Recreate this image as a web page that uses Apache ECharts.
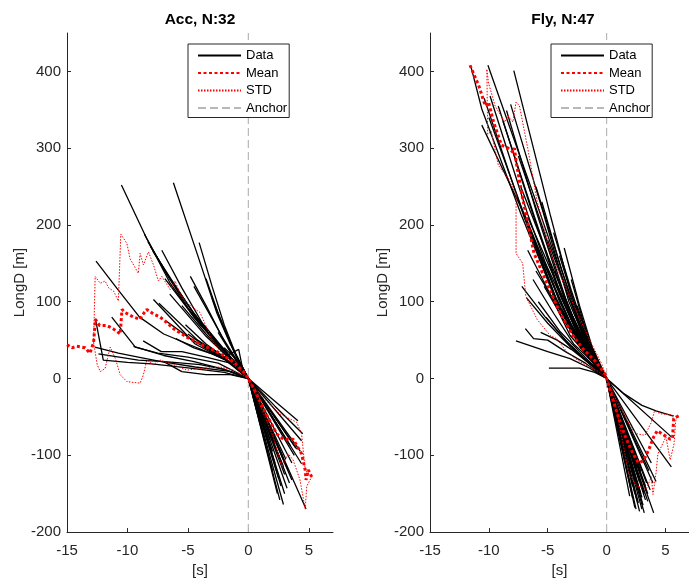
<!DOCTYPE html>
<html>
<head>
<meta charset="utf-8">
<script src="https://cdn.jsdelivr.net/npm/echarts@6/dist/echarts.min.js"></script>
<style>html,body{margin:0;padding:0;background:#fff}#c{width:689px;height:583px}</style>
</head>
<body>
<div id="c"></div>
<script>
// ---------- data ----------
const panelTitles = ['Acc, N:32', 'Fly, N:47'];
const xTicks = [-15, -10, -5, 0, 5];
const yTicks = [-200, -100, 0, 100, 200, 300, 400];
const legendNames = ['Data', 'Mean', 'STD', 'Anchor'];

const accTracks = [
  [[-10.5,252],[-8.4,182],[-6.5,125],[-4.5,80],[-2.5,45],[-1,20],[0,0],[2.9,-164]],
  [[-8.6,188],[-7,142],[-5,92],[-3,52],[-1.2,22],[0,0],[2.6,-158]],
  [[-8.3,178],[-6.5,130],[-4.5,85],[-2.5,46],[-1,18],[0,0],[3.2,-143]],
  [[-8.1,172],[-6.3,126],[-4.2,78],[-2.2,40],[-0.8,15],[0,0],[3.4,-136]],
  [[-7.9,166],[-6,120],[-4,72],[-2,36],[0,0],[2.4,-150]],
  [[-7.16,167],[-5.5,118],[-3.8,72],[-2,38],[0,0],[3.6,-132]],
  [[-6.2,255],[-4.5,175],[-2.6,85],[-1.5,45],[-0.5,15],[0,0],[4.77,-170]],
  [[-4.07,177],[-3,120],[-2,70],[-1,30],[0,0],[2.9,-115]],
  [[-4.8,133],[-3.5,95],[-2.2,55],[-1,25],[0,0],[3.0,-125]],
  [[-12.6,153],[-10.9,118],[-9,80],[-7,58],[-5,45],[-3,32],[-1,18],[0,0],[2,-27],[4.1,-55]],
  [[-12.7,41],[-10.75,33],[-9.1,28],[-7.2,22],[-4.4,15],[-1.4,9],[0,0],[2.2,-36],[4.5,-72]],
  [[-12.4,32],[-9.1,24],[-6.9,22],[-4,18],[-2,12],[0,0],[4.4,-81]],
  [[-11.3,80],[-9.35,41],[-7.5,33],[-5,28],[-2.5,20],[0,0],[4.3,-95]],
  [[-12.65,78],[-12.0,24],[-10,21],[-8,19],[-5,14],[-2,8],[0,0],[4.4,-111]],
  [[-7.85,103],[-4.4,45],[-2,25],[0,0],[2.7,-140]],
  [[-7.4,98],[-4.2,50],[-2,28],[0,0],[3.3,-120]],
  [[-6.9,130],[-4,70],[-2,38],[0,0],[3.8,-100]],
  [[-6.5,110],[-3.5,55],[-1.5,25],[0,0],[2.2,-110]],
  [[-8.7,49],[-7.2,35],[-5.5,35],[-3.5,28],[-1.5,20],[0,0],[2.0,-95]],
  [[-6.0,52],[-4.5,40],[-3,32],[-1.5,22],[0,0],[3.5,-88]],
  [[-5.5,95],[-3.5,58],[-1.8,30],[0,0],[3.9,-90]],
  [[-4.5,120],[-3,78],[-1.6,38],[0,0],[2.5,-130]],
  [[-3.5,130],[-2.5,85],[-1.3,40],[0,0],[1.8,-80]],
  [[-3,105],[-2,65],[-1,28],[0,0],[2.8,-100]],
  [[-9.5,42],[-7,30],[-4.5,22],[-2,12],[0,0],[3.1,-105]],
  [[-5.2,70],[-3.5,45],[-2,28],[-0.8,38],[-0.5,15],[0,0],[1.5,-60]],
  [[-2.5,60],[-1.5,35],[-0.7,15],[0,0],[2.2,-85]],
  [[-7,22],[-5.5,9],[-3.5,5],[-1.5,5],[0,0],[3.0,-150]],
  [[-5,58],[-3.2,38],[-1.6,22],[0,0],[2.0,-120]],
  [[-6.8,75],[-4.8,52],[-2.8,33],[-1.2,18],[0,0],[3.6,-110]],
  [[-3.8,42],[-2.4,30],[-1.2,18],[0,0],[4.0,-92]],
  [[-2,40],[-1,25],[0,0],[1.2,-40]]
];

const flyTracks = [
  [[-10.08,408],[-5.62,214],[-3.5,120],[-2,55],[-1,20],[0,0],[1.5,-20],[3,-35],[4.2,-42],[5.68,-49]],
  [[-7.88,401],[-4.8,214],[-3,110],[-1.5,45],[0,0],[5.5,-76]],
  [[-9.9,368],[-6.7,214],[-4,100],[-2,40],[0,0],[5.5,-115]],
  [[-8.5,349],[-5.9,214],[-3.5,100],[-1.8,40],[0,0],[4.2,-134]],
  [[-8.15,357],[-5.34,214],[-3.2,100],[-1.5,38],[0,0],[4.0,-175]],
  [[-11.5,405],[-10.6,351],[-7.27,214],[-4.5,110],[-2.5,48],[-1,18],[0,0],[1.96,-153]],
  [[-10.4,365],[-7.0,210],[-4.3,100],[-2.3,42],[0,0],[2.5,-170]],
  [[-10.0,340],[-6.8,205],[-4.2,100],[-2.2,40],[0,0],[2.8,-173]],
  [[-8.8,335],[-6.2,214],[-3.8,105],[-2,42],[0,0],[3.0,-170]],
  [[-7.5,290],[-5.5,200],[-3.5,105],[-1.8,40],[0,0],[3.3,-158]],
  [[-7.3,250],[-5,160],[-3,85],[-1.5,35],[0,0],[3.7,-145]],
  [[-6.7,210],[-4.7,140],[-2.8,75],[-1.3,30],[0,0],[3.4,-136]],
  [[-6.7,167],[-4.8,110],[-3.1,56],[-1.5,28],[0,0],[3.94,-136]],
  [[-6.25,129],[-4.5,85],[-2.8,45],[-1.2,22],[0,0],[3.1,-165]],
  [[-6.8,105],[-5,72],[-3,40],[-1.5,20],[0,0],[2.4,-168]],
  [[-6.9,65],[-6.2,52],[-5,50],[-3.5,35],[-1.8,20],[0,0],[2.6,-160]],
  [[-7.7,49],[-5,35],[-3.1,26],[-1.5,14],[0,0],[2.9,-150]],
  [[-4.9,13.5],[-2.3,13.5],[-1,8],[0,0],[3.2,-150]],
  [[-5.15,80],[-3.5,50],[-2,28],[0,0],[2.2,-140]],
  [[-5.6,60],[-4.2,50],[-3,38],[-1.5,20],[0,0],[2.7,-145]],
  [[-3.97,139],[-2.5,80],[-1.3,35],[0,0],[3.5,-160]],
  [[-3.0,129],[-2,75],[-1,30],[0,0],[2.3,-120]],
  [[-4.5,190],[-3,115],[-1.7,55],[0,0],[3.0,-130]],
  [[-5.5,230],[-3.8,140],[-2.2,68],[-1,25],[0,0],[2.0,-110]],
  [[-6,250],[-4.2,160],[-2.5,80],[-1.2,30],[0,0],[1.8,-95]],
  [[-10.6,330],[-7,214],[-4.3,105],[-2.2,40],[0,0],[2.6,-125]],
  [[-3.5,100],[-2.2,60],[-1,22],[0,0],[3.3,-140]],
  [[-2.5,95],[-1.5,50],[-0.7,20],[0,0],[1.5,-80]],
  [[-5.0,180],[-3.3,110],[-1.8,50],[0,0],[2.8,-135]],
  [[-4.0,160],[-2.7,95],[-1.4,40],[0,0],[3.6,-120]],
  [[-6.0,140],[-4.0,90],[-2.3,48],[-1,20],[0,0],[2.1,-130]],
  [[-5.3,120],[-3.6,75],[-2,38],[0,0],[1.2,-60]],
  [[-4.2,120],[-2.8,70],[-1.4,28],[0,0],[2.5,-140]],
  [[-3.3,75],[-2,45],[-1,20],[0,0],[3.1,-145]],
  [[-5.8,100],[-4,62],[-2.3,35],[-1,15],[0,0],[2.7,-162]],
  [[-2.8,60],[-1.5,30],[0,0],[2.4,-150]],
  [[-7.2,120],[-5.2,80],[-3.2,45],[-1.5,20],[0,0],[3.8,-110]],
  [[-2.2,50],[-1,22],[0,0],[1.7,-100]],
  [[-3.6,170],[-2.3,95],[-1.2,40],[0,0],[2.9,-120]],
  [[-4.4,140],[-3,85],[-1.6,36],[0,0],[2.2,-155]],
  [[-6.4,190],[-4.5,120],[-2.7,60],[-1.2,22],[0,0],[3.2,-175]],
  [[-5.2,150],[-3.5,95],[-2,48],[0,0],[1.0,-45]],
  [[-1.8,35],[-0.8,14],[0,0],[2.6,-115]],
  [[-4.6,110],[-3,65],[-1.6,28],[0,0],[3.5,-150]],
  [[-3.8,90],[-2.4,55],[-1.2,24],[0,0],[0.8,-35]],
  [[-7.0,215],[-5,140],[-3,70],[-1.5,28],[0,0],[2.0,-125]],
  [[-9.2,355],[-6.5,225],[-4,110],[-2,42],[0,0],[3.0,-155]]
];

const accMean = [[-15,44],[-14.6,40],[-14.2,42],[-13.8,41],[-13.5,40],[-13.1,33],[-12.8,47],[-12.65,77],[-12.3,69],[-11.7,69],[-11.2,65],[-10.6,58],[-10.45,90],[-10.2,86],[-9.5,80],[-8.95,77],[-8.8,82],[-8.4,90],[-7.85,84],[-7.3,80],[-6.75,73],[-6.2,65],[-5.1,54],[-4,45],[-2.6,35],[-1.24,22],[-0.4,9],[0,0],[0.7,-21],[1.5,-47],[2.35,-72],[2.9,-79],[3.7,-79],[4.4,-98],[4.7,-119],[4.77,-132],[4.96,-119],[5.24,-128]];
const accStdUp = [[-12.8,47],[-12.67,133],[-12.25,124],[-11.85,127],[-11.55,118],[-11.15,114],[-10.75,101],[-10.55,188],[-10.05,176],[-9.78,156],[-9.1,137],[-8.95,163],[-8.68,148],[-8.26,165],[-7.85,148],[-7.44,127],[-7.16,133],[-6.47,116],[-6.06,127],[-5.64,110],[-5.1,99],[-4.55,92],[-4,86],[-2.9,47],[-1.8,26],[-0.7,11],[0,0],[0.7,-17],[2.6,-46],[4,-57],[4.4,-72],[4.7,-119],[5.24,-128]];
const accStdLo = [[-12.8,47],[-12.5,18],[-12.25,9],[-11.85,13],[-11.43,41],[-11,26],[-10.6,5],[-10.05,-4],[-8.95,-6],[-8.68,5],[-8.4,24],[-7.85,18],[-7.3,24],[-6.2,18],[-5.1,11],[-4,13],[-2.34,15],[-1.24,11],[0,0],[0.7,-25],[2.07,-76],[2.76,-115],[3.3,-98],[3.7,-106],[4.27,-132],[4.7,-170],[4.83,-140],[5.24,-128]];

const flyMean = [[-11.6,408],[-10.85,381],[-10.3,355],[-10.03,360],[-9.6,334],[-8.93,304],[-8.37,300],[-7.96,295],[-7.82,300],[-7.69,283],[-7.2,240],[-7.0,225],[-6.16,163],[-5.07,124],[-3.97,86],[-2.86,56],[-2.03,39],[-0.93,22],[-0.1,5],[0,0],[0.5,-26],[1,-50],[1.5,-72],[2.0,-90],[2.4,-102],[2.7,-110],[3.0,-108],[3.3,-102],[3.6,-92],[4.0,-76],[4.3,-68],[4.7,-72],[5.0,-75],[5.4,-79],[5.6,-78],[5.7,-52],[6.2,-48]];
const flyStdUp = [[-10.17,402],[-10.03,385],[-9.47,355],[-8.64,334],[-8.37,342],[-7.96,334],[-7.69,360],[-7.4,355],[-6.7,300],[-5.9,231],[-4.65,159],[-3.14,107],[-1.49,52],[-0.38,18],[0,0],[0.72,-25],[2.15,-66],[2.6,-72],[3.26,-74],[3.8,-57],[4.08,-42],[4.58,-46],[5.45,-47],[6.0,-50]];
const flyStdLo = [[-10.17,402],[-10.1,318],[-9.8,322],[-9.2,278],[-8.37,261],[-7.69,240],[-7.69,163],[-7.13,150],[-6.86,107],[-5.9,77],[-4.8,56],[-4.24,52],[-3.4,35],[-2.3,22],[-0.66,9],[0,0],[0.7,-30],[1.88,-123],[2.56,-140],[3.4,-143],[3.8,-128],[3.94,-151],[4.2,-123],[4.36,-98],[5.04,-76],[5.4,-106],[5.73,-85],[5.87,-55],[6.0,-50]];

const anchorLine = [[0,-200],[0,450]];

// ---------- chart ----------
const FONT = '"Liberation Sans", Arial, Helvetica, sans-serif';
const AX = '#262626';
const chart = echarts.init(document.getElementById('c'), null, {renderer: 'canvas'});

const panels = [
  {tracks: accTracks, mean: accMean, up: accStdUp, lo: accStdLo},
  {tracks: flyTracks, mean: flyMean, up: flyStdUp, lo: flyStdLo}
];
const gridLefts = [67, 430];

const series = [];
panels.forEach((p, gi) => {
  series.push({type:'line', name:'Anchor', xAxisIndex:gi, yAxisIndex:gi, data:anchorLine, symbol:'none', silent:true, z:1,
    lineStyle:{color:'#b8b8b8', width:1.2, type:[8,4]}, itemStyle:{color:'#b8b8b8'}});
  p.tracks.forEach(tr => series.push({type:'line', name:'Data', xAxisIndex:gi, yAxisIndex:gi, data:tr, symbol:'none', silent:true, z:2,
    lineStyle:{color:'#000', width:1.3}, itemStyle:{color:'#000'}}));
  [p.up, p.lo].forEach(d => series.push({type:'line', name:'STD', xAxisIndex:gi, yAxisIndex:gi, data:d, symbol:'none', silent:true, z:3,
    lineStyle:{color:'#ff0000', width:1, type:[1.5,1.5]}, itemStyle:{color:'#ff0000'}}));
  series.push({type:'line', name:'Mean', xAxisIndex:gi, yAxisIndex:gi, data:p.mean, symbol:'none', silent:true, z:4,
    lineStyle:{color:'#ff0000', width:3, type:[3,2.5]}, itemStyle:{color:'#ff0000'}});
});

const xAxes = [0,1].map(gi => ({
  type:'value', gridIndex:gi, min:-15, max:7,
  axisLine:{show:true, onZero:false, lineStyle:{color:AX, width:1}},
  axisTick:{show:true, inside:true, length:4, customValues:xTicks, lineStyle:{color:AX}},
  axisLabel:{customValues:xTicks, color:AX, fontSize:15, fontFamily:FONT, margin:11},
  splitLine:{show:false},
  name:'[s]', nameLocation:'middle', nameGap:30,
  nameTextStyle:{color:AX, fontSize:15, fontFamily:FONT}
}));
const yAxes = [0,1].map(gi => ({
  type:'value', gridIndex:gi, min:-200, max:450,
  axisLine:{show:true, onZero:false, lineStyle:{color:AX, width:1}},
  axisTick:{show:true, inside:true, length:4, customValues:yTicks, lineStyle:{color:AX}},
  axisLabel:{customValues:yTicks, color:AX, fontSize:15, fontFamily:FONT, margin:6},
  splitLine:{show:false},
  name:'LongD [m]', nameLocation:'middle', nameGap:40, nameRotate:90,
  nameTextStyle:{color:AX, fontSize:15, fontFamily:FONT}
}));

const legends = [0,1].map(gi => ({
  data: legendNames, orient:'vertical', left: gridLefts[gi] + 121, top:44,
  itemWidth:43, itemHeight:14, itemGap:4.5,
  padding:[5, 2, 3, 9],
  backgroundColor:'#fff', borderColor:AX, borderWidth:1,
  itemStyle:{color:'rgba(0,0,0,0)', borderColor:'rgba(0,0,0,0)', borderWidth:0, opacity:0},
  textStyle:{color:'#000', fontSize:13, fontFamily:FONT},
  selectedMode:false
}));

chart.setOption({
  animation:false,
  backgroundColor:'#fff',
  title: panelTitles.map((t, gi) => ({
    text:t, left: gridLefts[gi] + 133, top:12, textAlign:'center', padding:0,
    textStyle:{color:'#000', fontSize:15.5, fontWeight:'bold', fontFamily:FONT}
  })),
  grid:[
    {left:67, top:33, width:266, height:506},
    {left:430, top:33, width:266, height:506}
  ],
  legend: legends,
  xAxis: xAxes,
  yAxis: yAxes,
  series: series
});
</script>
</body>
</html>
